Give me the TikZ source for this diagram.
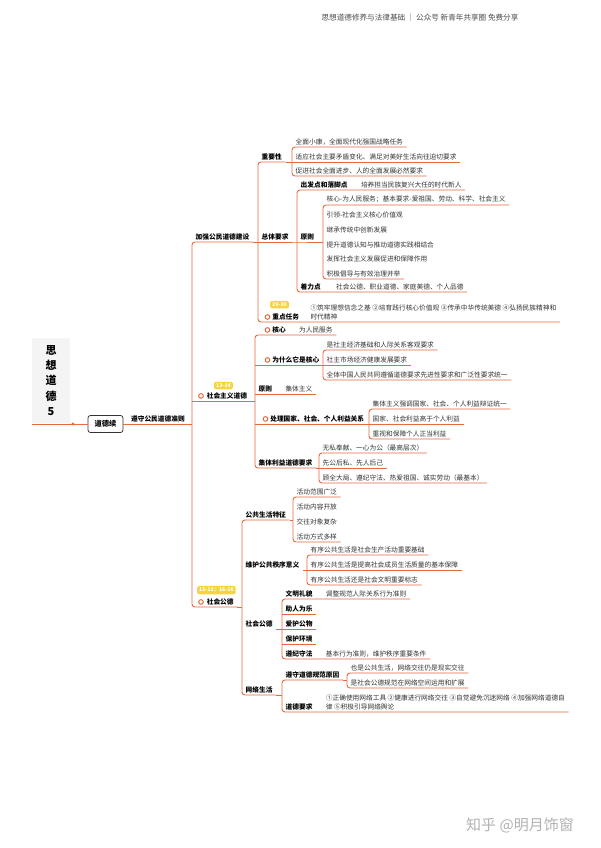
\documentclass[tikz,border=0pt]{standalone}
\usepackage{fontspec}
\setmainfont{Noto Sans CJK SC}
\usetikzlibrary{positioning}
\definecolor{branch}{HTML}{E8693C}
\definecolor{tagyellow}{HTML}{F6D440}
\definecolor{txt}{HTML}{333333}
\definecolor{rootgray}{HTML}{F4F4F4}
\newcommand\ring{\tikz[baseline=-2.4pt]\draw[branch, line width=1pt, fill=white] (0,0) circle[radius=2.3pt];}

\begin{document}
\begin{tikzpicture}[x=1pt, y=-1pt,
	ln/.style={draw=branch, line width=0.9pt},
	rnd/.style={ln, rounded corners=3pt},
	lbl/.style={anchor=south west, inner xsep=3.5pt, inner ysep=1.8pt, text=txt, font=\fontsize{6.7}{9}\selectfont},
	hd/.style={lbl, text=black, font=\fontsize{6.7}{9}\selectfont\bfseries},
	tagbox/.style={fill=tagyellow, text=white, rounded corners=1.5pt, inner xsep=2pt, inner ysep=1.8pt, font=\fontsize{5.2}{6}\selectfont\bfseries}]
	\fill[white] (0,0) rectangle (600,848);
	\useasboundingbox (0,0) rectangle (600,848);

	\node[font=\fontsize{7.6}{9}\selectfont, text=black!70] (hdr) at (420,18) {思想道德修养与法律基础 ｜ 公众号 新青年共享圈 免费分享};
	\node[font=\fontsize{15}{17}\selectfont, text=black!30] (wm) at (520,825) {知乎 @明月饰窗};

	% root
	\node[fill=rootgray, minimum width=38pt, minimum height=85pt, inner sep=0pt, align=center, font=\fontsize{11}{15.3}\selectfont\bfseries] (root) at (51,380.5) {思\\想\\道\\德\\5};
	\node[draw=black!80, line width=0.8pt, rounded corners=2.5pt, minimum width=35pt, minimum height=17pt, inner sep=0pt, font=\fontsize{7.3}{9}\selectfont\bfseries] (dd) at (105.5,424) {道德续};
	\draw[ln] (root.south west |- dd.west) -- (dd.west);
	\fill[branch] (73,424) circle[radius=1.7pt];
	\node[hd, right=4pt of dd.east, anchor=south west] (zs) {遵守公民道德准则};

	% level 2
	\node[hd] (jq) at (192,242) {加强公民道德建设};
	\node[hd] (sz) at (192,401) {\hspace{2.5pt}\ring\hspace{3pt}社会主义道德};
	\node[hd] (sg) at (192,607) {\hspace{2.5pt}\ring\hspace{3pt}社会公德};
	\node[tagbox, above right=1pt and 22pt of sz.north west] (szt) {13-14};
	\node[tagbox, above right=2pt and 5pt of sg.north west] (sgt) {15-11；16-16};
	\draw[ln] (dd.east) -- (zs.south east -| jq.south west);
	\draw[rnd] (jq.south east) -- (jq.south west) -- (sg.south west) -- (sg.south east);
	\draw[ln] (sz.south west) -- (sz.south east);

	% 加强公民道德建设
	\node[hd] (zy) at (258,162) {重要性};
	\node[hd] (zt) at (258,242) {总体要求};
	\node[hd] (zd) at (258,322) {\hspace{3pt}\ring\hspace{2pt}重点任务};
	\node[tagbox, above right=3pt and 12pt of zd.north west] (zdg) {20-30};
	\node[lbl, align=left, right=4pt of zd.south east, anchor=south west] (zdt) {①筑牢理想信念之基 ②培育践行核心价值观 ③传承中华传统美德 ④弘扬民族精神和\\时代精神};
	\draw[rnd] (zy.south east) -- (zy.south west) -- (zd.south west) -- (zdt.south east);
	\draw[ln] (jq.south east) -- (zt.south east);

	\node[lbl] (zy1) at (292,147) {全面小康，全面现代化强国战略任务};
	\node[lbl] (zy2) at (292,162) {适应社会主要矛盾变化、满足对美好生活向往迫切要求};
	\node[lbl] (zy3) at (292,176) {促进社会全面进步、人的全面发展必然要求};
	\draw[rnd] (zy1.south east) -- (zy1.south west) -- (zy3.south west) -- (zy3.south east);
	\draw[ln] (zy.south east) -- (zy2.south east);

	\node[hd] (cf) at (297,190) {出发点和落脚点};
	\node[lbl, right=6pt of cf.south east, anchor=south west] (cft) {培养担当民族复兴大任的时代新人};
	\node[hd] (yz) at (297,242) {原则};
	\node[hd] (zl) at (297,292) {着力点};
	\node[lbl, right=8pt of zl.south east, anchor=south west] (zlt) {社会公德、职业道德、家庭美德、个人品德};
	\draw[rnd] (cft.south east) -- (cf.south west) -- (zl.south west) -- (zlt.south east);
	\draw[ln] (zt.south east) -- (yz.south west) -- (yz.south east);

	\node[lbl] (yz1) at (323,205) {核心-为人民服务；基本要求-爱祖国、劳动、科学、社会主义};
	\node[lbl] (yz2) at (323,220) {引领-社会主义核心价值观};
	\node[lbl] (yz3) at (323,235) {继承传统中创新发展};
	\node[lbl] (yz4) at (323,250) {提升道德认知与推动道德实践相结合};
	\node[lbl] (yz5) at (323,264) {发挥社会主义发展促进和保障作用};
	\node[lbl] (yz6) at (323,279) {积极倡导与有效治理并举};
	\draw[rnd] (yz1.south east) -- (yz1.south west) -- (yz6.south west) -- (yz6.south east);
	\draw[ln] (yz.south east) -- (yz.south east -| yz1.south west);

	% 社会主义道德
	\node[hd] (hx) at (255,335) {\hspace{6pt}\ring\hspace{2pt}核心};
	\node[lbl, right=6pt of hx.south east, anchor=south west] (hxt) {为人民服务};
	\node[hd] (ws) at (255,365) {\hspace{6pt}\ring\hspace{2pt}为什么它是核心};
	\node[hd] (yzb) at (255,394) {原则};
	\node[lbl, right=6pt of yzb.south east, anchor=south west] (yzbt) {集体主义};
	\node[hd] (cl) at (255,424) {\hspace{4pt}\ring\hspace{2pt}处理国家、社会、个人利益关系};
	\node[hd] (jt) at (255,468) {集体利益道德要求};
	\draw[rnd] (hxt.south east) -- (hx.south west) -- (jt.south west) -- (jt.south east);
	\draw[ln] (yzb.south west) -- (yzbt.south east);
	\draw[ln] (sz.south east) -- (sz.south east -| hx.south west);

	\node[lbl] (ws1) at (323,350) {是社主经济基础和人际关系客观要求};
	\node[lbl] (ws2) at (323,365) {社主市场经济健康发展要求};
	\node[lbl] (ws3) at (323,380) {全体中国人民共同遵循道德要求先进性要求和广泛性要求统一};
	\draw[rnd] (ws1.south east) -- (ws1.south west) -- (ws3.south west) -- (ws3.south east);
	\draw[ln] (ws.south west) -- (ws2.south east);

	\node[lbl] (cl1) at (369,409) {集体主义强调国家、社会、个人利益辩证统一};
	\node[lbl] (cl2) at (369,424) {国家、社会利益高于个人利益};
	\node[lbl] (cl3) at (369,439) {重视和保障个人正当利益};
	\draw[rnd] (cl1.south east) -- (cl1.south west) -- (cl3.south west) -- (cl3.south east);
	\draw[ln] (cl.south west) -- (cl2.south east);

	\node[lbl] (jt1) at (319,453) {无私奉献、一心为公（最高层次）};
	\node[lbl] (jt2) at (319,468) {先公后私、先人后己};
	\node[lbl] (jt3) at (319,483) {顾全大局、遵纪守法、热爱祖国、诚实劳动（最基本）};
	\draw[rnd] (jt1.south east) -- (jt1.south west) -- (jt3.south west) -- (jt3.south east);
	\draw[ln] (jt.south east) -- (jt2.south east);

	% 社会公德
	\node[hd] (gt) at (242,520) {公共生活特征};
	\node[hd] (wh) at (242,570) {维护公共秩序意义};
	\node[hd] (sgb) at (242,629) {社会公德};
	\node[hd] (wl) at (242,695) {网络生活};
	\draw[rnd] (gt.south east) -- (gt.south west) -- (wl.south west) -- (wl.south east);
	\draw[ln] (sg.south east) -- (sg.south east -| gt.south west);

	\node[lbl] (gt1) at (293,497) {活动范围广泛};
	\node[lbl] (gt2) at (293,512) {活动内容开放};
	\node[lbl] (gt3) at (293,527) {交往对象复杂};
	\node[lbl] (gt4) at (293,542) {活动方式多样};
	\draw[rnd] (gt1.south east) -- (gt1.south west) -- (gt4.south west) -- (gt4.south east);
	\draw[ln] (gt.south east) -- (gt.south east -| gt1.south west);

	\node[lbl] (wh1) at (307,555) {有序公共生活是社会生产活动重要基础};
	\node[lbl] (wh2) at (307,570) {有序公共生活是提高社会成员生活质量的基本保障};
	\node[lbl] (wh3) at (307,585) {有序公共生活还是社会文明重要标志};
	\draw[rnd] (wh1.south east) -- (wh1.south west) -- (wh3.south west) -- (wh3.south east);
	\draw[ln] (wh.south east) -- (wh2.south east);

	\node[hd] (sg1) at (282,599) {文明礼貌};
	\node[lbl, right=6pt of sg1.south east, anchor=south west] (sg1t) {调整规范人际关系行为准则};
	\node[hd] (sg2) at (282,614) {助人为乐};
	\node[hd] (sg3) at (282,629) {爱护公物};
	\node[hd] (sg4) at (282,644) {保护环境};
	\node[hd] (sg5) at (282,659) {遵纪守法};
	\node[lbl, right=6pt of sg5.south east, anchor=south west] (sg5t) {基本行为准则，维护秩序重要条件};
	\draw[rnd] (sg1t.south east) -- (sg1.south west) -- (sg5.south west) -- (sg5t.south east);
	\foreach \n in {sg2,sg3,sg4}
		\draw[ln] (\n.south west) -- (\n.south east);
	\draw[ln] (sgb.south east) -- (sgb.south east -| sg1.south west);

	\node[hd] (ys) at (282,680) {遵守道德规范原因};
	\node[hd] (dy) at (282,712) {道德要求};
	\node[lbl, align=left, right=6pt of dy.south east, anchor=south west] (dyt) {①正确使用网络工具 ②健康进行网络交往 ③自觉避免沉迷网络 ④加强网络道德自\\律 ⑤积极引导网络舆论};
	\draw[rnd] (ys.south east) -- (ys.south west) -- (dy.south west) -- (dyt.south east);
	\draw[ln] (wl.south east) -- (wl.south east -| ys.south west);

	\node[lbl] (ys1) at (347,673) {也是公共生活，网络交往仍是现实交往};
	\node[lbl] (ys2) at (347,688) {是社会公德规范在网络空间运用和扩展};
	\draw[rnd] (ys1.south east) -- (ys1.south west) -- (ys2.south west) -- (ys2.south east);
	\draw[ln] (ys.south east) -- (ys.south east -| ys1.south west);
\end{tikzpicture}
\end{document}
